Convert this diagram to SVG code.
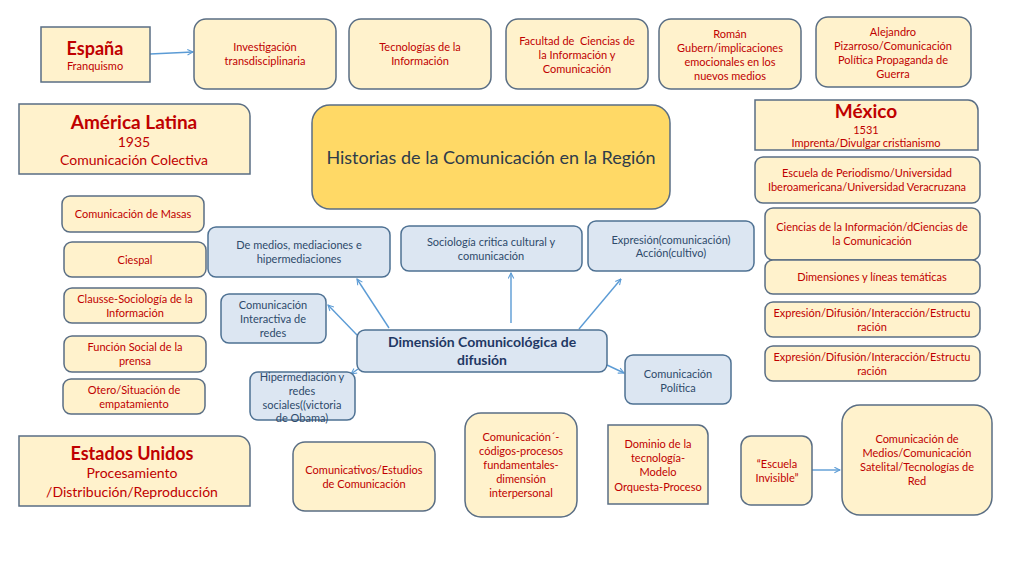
<svg xmlns="http://www.w3.org/2000/svg" width="1024" height="576" viewBox="0 0 1024 576">
<defs>
<style>
.b{fill:#FFF2CC;stroke:#5A6E84;stroke-width:1.5}
.u{fill:#DCE6F2;stroke:#4E7193;stroke-width:1.5}
.c{fill:#FFD966;stroke:#5A6E84;stroke-width:1.5}
text{font-family:Lato,"Liberation Sans",sans-serif;text-anchor:middle}
.r{fill:#C00000;font-size:11px}
.rb{fill:#C00000;font-size:19px;font-weight:bold}
.rm{fill:#C00000;font-size:14px}
.n{fill:#2E4A6B;font-size:11px}
.nb{fill:#1F3864;font-size:14px;font-weight:bold}
.t{fill:#2E3B4A;font-size:18px}
.k{fill:none;stroke:#5B9BD5;stroke-width:1.4;marker-end:url(#a)}
</style>
<marker id="a" viewBox="0 0 10 10" refX="9" refY="5" markerWidth="7" markerHeight="7" orient="auto" markerUnits="userSpaceOnUse">
<path d="M1,1 L9,5 L1,9" fill="none" stroke="#5B9BD5" stroke-width="1.5"/>
</marker>
</defs>
<rect width="1024" height="576" fill="#FFFFFF"/>
<g id="connectors">
<line class="k" x1="150" y1="54" x2="193" y2="52"/>
<line class="k" x1="389" y1="328" x2="357" y2="279"/>
<line class="k" x1="357" y1="335" x2="328" y2="305"/>
<line class="k" x1="358" y1="369" x2="351" y2="374"/>
<line class="k" x1="511" y1="323" x2="511" y2="273"/>
<line class="k" x1="579" y1="329" x2="621" y2="279"/>
<line class="k" x1="607" y1="365" x2="624" y2="373"/>
<line class="k" x1="812" y1="470" x2="840" y2="470"/>
</g>
<g id="espana"><rect class="b" x="41" y="27" width="109" height="55"/><text class="rb" x="95" y="55" style="font-size:18px">España</text><text class="r" x="95" y="70">Franquismo</text></g>
<g id="investigacion"><rect class="b" x="194" y="19" width="142" height="70" rx="12"/><text class="r" x="265" y="51">Investigación</text><text class="r" x="265" y="65">transdisciplinaria</text></g>
<g id="tecnologias"><rect class="b" x="349" y="19" width="142" height="70" rx="12"/><text class="r" x="420" y="51">Tecnologías de la</text><text class="r" x="420" y="65">Información</text></g>
<g id="facultad"><rect class="b" x="506" y="19" width="142" height="70" rx="12"/><text class="r" x="577" y="45" xml:space="preserve">Facultad de  Ciencias de</text><text class="r" x="577" y="59">la Información y</text><text class="r" x="577" y="73">Comunicación</text></g>
<g id="roman"><rect class="b" x="659" y="19" width="142" height="70" rx="12"/><text class="r" x="730" y="38">Román</text><text class="r" x="730" y="52">Gubern/implicaciones</text><text class="r" x="730" y="66">emocionales en los</text><text class="r" x="730" y="80">nuevos medios</text></g>
<g id="alejandro"><rect class="b" x="816" y="17" width="155" height="70" rx="12"/><text class="r" x="893" y="36">Alejandro</text><text class="r" x="893" y="50">Pizarroso/Comunicación</text><text class="r" x="893" y="64">Política Propaganda de</text><text class="r" x="893" y="78">Guerra</text></g>
<g id="america"><path class="b" d="M19,104 H238 A12,12 0 0 1 250,116 V174 H19 Z"/><text class="rb" x="134" y="129">América Latina</text><text class="rm" x="134" y="147">1935</text><text class="rm" x="134" y="165">Comunicación Colectiva</text></g>
<g id="historias"><rect class="c" x="312" y="105" width="358" height="104" rx="18"/><text class="t" x="491" y="164">Historias de la Comunicación en la Región</text></g>
<g id="mexico"><path class="b" d="M755,100 H968 A10,10 0 0 1 978,110 V150 H755 Z"/><text class="rb" x="866" y="118">México</text><text class="r" x="866" y="134">1531</text><text class="r" x="866" y="147">Imprenta/Divulgar cristianismo</text></g>
<g id="escuela-periodismo"><rect class="b" x="755" y="157" width="225" height="46" rx="8"/><text class="r" x="867" y="177">Escuela de Periodismo/Universidad</text><text class="r" x="867" y="191">Iberoamericana/Universidad Veracruzana</text></g>
<g id="ciencias"><rect class="b" x="765" y="208" width="215" height="52" rx="8"/><text class="r" x="872" y="231">Ciencias de la Información/dCiencias de</text><text class="r" x="872" y="245">la Comunicación</text></g>
<g id="dimensiones"><rect class="b" x="765" y="260" width="215" height="34" rx="8"/><text class="r" x="872" y="281">Dimensiones y líneas temáticas</text></g>
<g id="expresion1"><rect class="b" x="765" y="302" width="215" height="35" rx="8"/><text class="r" x="872" y="317">Expresión/Difusión/Interacción/Estructu</text><text class="r" x="872" y="331">ración</text></g>
<g id="expresion2"><rect class="b" x="765" y="346" width="215" height="35" rx="8"/><text class="r" x="872" y="361">Expresión/Difusión/Interacción/Estructu</text><text class="r" x="872" y="375">ración</text></g>
<g id="masas"><rect class="b" x="62" y="196" width="142" height="36" rx="8"/><text class="r" x="133" y="218">Comunicación de Masas</text></g>
<g id="ciespal"><rect class="b" x="64" y="242" width="142" height="35" rx="8"/><text class="r" x="135" y="264">Ciespal</text></g>
<g id="clausse"><rect class="b" x="64" y="288" width="142" height="35" rx="8"/><text class="r" x="135" y="303">Clausse-Sociología de la</text><text class="r" x="135" y="317">Información</text></g>
<g id="funcion"><rect class="b" x="64" y="336" width="142" height="36" rx="8"/><text class="r" x="135" y="351">Función Social de la</text><text class="r" x="135" y="365">prensa</text></g>
<g id="otero"><rect class="b" x="63" y="379" width="142" height="35" rx="8"/><text class="r" x="134" y="394">Otero/Situación de</text><text class="r" x="134" y="408">empatamiento</text></g>
<g id="estados"><path class="b" d="M19,436 H238 A12,12 0 0 1 250,448 V506 H19 Z"/><text class="rb" x="132" y="460" style="font-size:18px">Estados Unidos</text><text class="rm" x="132" y="478">Procesamiento</text><text class="rm" x="132" y="497">/Distribución/Reproducción</text></g>
<g id="medios"><rect class="u" x="208" y="227" width="182" height="50" rx="8"/><text class="n" x="299" y="249">De medios, mediaciones e</text><text class="n" x="299" y="263">hipermediaciones</text></g>
<g id="sociologia"><rect class="u" x="401" y="226" width="181" height="45" rx="8"/><text class="n" x="491" y="246">Sociología critica cultural y</text><text class="n" x="491" y="260">comunicación</text></g>
<g id="expresion-accion"><rect class="u" x="588" y="221" width="166" height="50" rx="8"/><text class="n" x="671" y="244">Expresión(comunicación)</text><text class="n" x="671" y="257">Acción(cultivo)</text></g>
<g id="interactiva"><rect class="u" x="221" y="294" width="105" height="49" rx="8"/><text class="n" x="273" y="309">Comunicación</text><text class="n" x="273" y="323">Interactiva de</text><text class="n" x="273" y="337">redes</text></g>
<g id="dimension"><rect class="u" x="357" y="330" width="250" height="42" rx="8"/><text class="nb" x="482" y="347">Dimensión Comunicológica de</text><text class="nb" x="482" y="365">difusión</text></g>
<g id="politica"><rect class="u" x="625" y="355" width="106" height="49" rx="8"/><text class="n" x="678" y="378">Comunicación</text><text class="n" x="678" y="392">Política</text></g>
<g id="hipermediacion"><rect class="u" x="250" y="372" width="105" height="48" rx="8"/><text class="n" x="302" y="381">Hipermediación y</text><text class="n" x="302" y="395">redes</text><text class="n" x="302" y="409">sociales((victoria</text><text class="n" x="302" y="422">de Obama)</text></g>
<g id="comunicativos"><rect class="b" x="293" y="442" width="142" height="69" rx="12"/><text class="r" x="364" y="474">Comunicativos/Estudios</text><text class="r" x="364" y="488">de Comunicación</text></g>
<g id="codigos"><rect class="b" x="465" y="413" width="112" height="104" rx="16"/><text class="r" x="521" y="441">Comunicación´-</text><text class="r" x="521" y="455">códigos-procesos</text><text class="r" x="521" y="469">fundamentales-</text><text class="r" x="521" y="483">dimensión</text><text class="r" x="521" y="497">interpersonal</text></g>
<g id="dominio"><path class="b" d="M608,425 H698 A10,10 0 0 1 708,435 V504 H608 Z"/><text class="r" x="658" y="448">Dominio de la</text><text class="r" x="658" y="462">tecnología-</text><text class="r" x="658" y="476">Modelo</text><text class="r" x="658" y="491">Orquesta-Proceso</text></g>
<g id="escuela-invisible"><rect class="b" x="741" y="436" width="71" height="69" rx="10"/><text class="r" x="777" y="468">“Escuela</text><text class="r" x="777" y="482">Invisible”</text></g>
<g id="medios-satelital"><rect class="b" x="842" y="405" width="150" height="110" rx="18"/><text class="r" x="917" y="443">Comunicación de</text><text class="r" x="917" y="457">Medios/Comunicación</text><text class="r" x="917" y="471">Satelital/Tecnologías de</text><text class="r" x="917" y="485">Red</text></g>
</svg>
